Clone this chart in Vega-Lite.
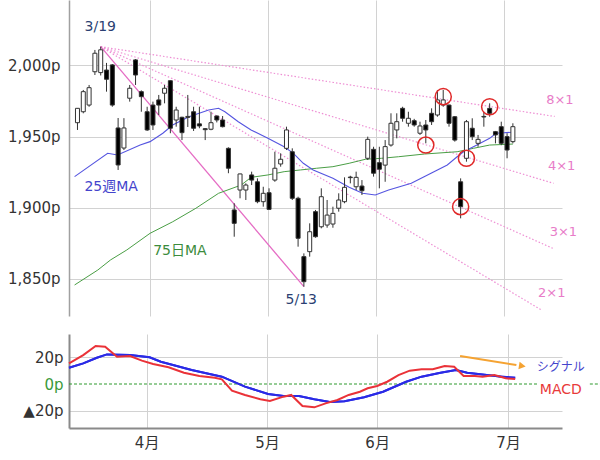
{
  "$schema": "https://vega.github.io/schema/vega-lite/v6.json",
  "autosize": {"type": "pad"},
  "padding": {"left": 0, "top": 0, "right": 0, "bottom": 0},
  "background": "white",
  "spacing": 18,
  "config": {
    "view": {"stroke": null},
    "font": "DejaVu Sans, Noto Sans CJK JP",
    "axis": {"labelFont": "DejaVu Sans, Noto Sans CJK JP", "labelFontSize": 15, "labelColor": "#333333", "gridColor": "#d2d2d2", "gridWidth": 1, "ticks": false}
  },
  "datasets": {
    "candles": [
      {"k":-13,"o":1959.8,"h":1970,"l":1954.7,"c":1969.9},
      {"k":-12,"o":1967.5,"h":1982.8,"l":1966.4,"c":1981.6},
      {"k":-11,"o":1972.2,"h":1986.3,"l":1971,"c":1984.4},
      {"k":-10,"o":1995.6,"h":2010.9,"l":1993.3,"c":2008.6},
      {"k":-9,"o":1995,"h":2013.2,"l":1993,"c":2011},
      {"k":-8,"o":1996.8,"h":2001.8,"l":1981.6,"c":1990.3},
      {"k":-7,"o":2000.4,"h":2001,"l":1971,"c":1972.2},
      {"k":-6,"o":1956.1,"h":1963.1,"l":1926.6,"c":1930.1},
      {"k":-5,"o":1942,"h":1963,"l":1940.6,"c":1956.1},
      {"k":-4,"o":1977,"h":1986.3,"l":1974.6,"c":1984},
      {"k":-3,"o":2003.9,"h":2004.5,"l":1986.3,"c":1993.3},
      {"k":-2,"o":1981.6,"h":1982.5,"l":1967.5,"c":1978.1},
      {"k":-1,"o":1967.5,"h":1971,"l":1954,"c":1954.7},
      {"k":0,"o":1972.2,"h":1974.6,"l":1954.7,"c":1958.2},
      {"k":1,"o":1975.8,"h":1979.3,"l":1965.2,"c":1972.2},
      {"k":2,"o":1980.5,"h":1986.3,"l":1973.4,"c":1984},
      {"k":3,"o":1989.3,"h":1989.5,"l":1952.4,"c":1955.9},
      {"k":4,"o":1961.7,"h":1971,"l":1957,"c":1968.7},
      {"k":5,"o":1963.6,"h":1964,"l":1947.6,"c":1952.8},
      {"k":6,"o":1963.5,"h":1979.3,"l":1956.8,"c":1964.2},
      {"k":7,"o":1967.5,"h":1971,"l":1954,"c":1955.9},
      {"k":8,"o":1959,"h":1971,"l":1955.9,"c":1957.5},
      {"k":9,"o":1955.6,"h":1956,"l":1947.6,"c":1954.9},
      {"k":10,"o":1955.2,"h":1967.5,"l":1954.5,"c":1959.8},
      {"k":11,"o":1964.5,"h":1965,"l":1960,"c":1961.7},
      {"k":12,"o":1961.7,"h":1964.5,"l":1956.5,"c":1957},
      {"k":13,"o":1941.8,"h":1942.5,"l":1924.3,"c":1927.8},
      {"k":14,"o":1898.5,"h":1903.2,"l":1879.7,"c":1889.1},
      {"k":15,"o":1912.5,"h":1924,"l":1906.7,"c":1923.8},
      {"k":16,"o":1912.5,"h":1917.2,"l":1905.5,"c":1916},
      {"k":17,"o":1923.1,"h":1925.4,"l":1916,"c":1919.5},
      {"k":18,"o":1918.3,"h":1920.7,"l":1903.2,"c":1904.3},
      {"k":19,"o":1904.3,"h":1914.8,"l":1900.8,"c":1910.2},
      {"k":20,"o":1910.6,"h":1913.7,"l":1898.5,"c":1898.9},
      {"k":21,"o":1919.5,"h":1939.4,"l":1918.3,"c":1927.8},
      {"k":22,"o":1930.8,"h":1938.3,"l":1928.9,"c":1934.1},
      {"k":23,"o":1941.8,"h":1957,"l":1940.6,"c":1954.7},
      {"k":24,"o":1939.4,"h":1941.8,"l":1905.5,"c":1906.7},
      {"k":25,"o":1906.7,"h":1907.8,"l":1872.7,"c":1878.6},
      {"k":26,"o":1865.7,"h":1868,"l":1844.6,"c":1848.1},
      {"k":27,"o":1869.2,"h":1889.1,"l":1865.7,"c":1883.2},
      {"k":28,"o":1897.3,"h":1898.5,"l":1879,"c":1879.7},
      {"k":29,"o":1886.7,"h":1913.7,"l":1885.6,"c":1907.8},
      {"k":30,"o":1887.9,"h":1905.5,"l":1886,"c":1894.9},
      {"k":31,"o":1888.6,"h":1900.8,"l":1886,"c":1896.1},
      {"k":32,"o":1899.7,"h":1910.2,"l":1897.3,"c":1905.5},
      {"k":33,"o":1904.3,"h":1921.4,"l":1903.2,"c":1914.4},
      {"k":34,"o":1921.6,"h":1922.5,"l":1917.2,"c":1921.2},
      {"k":35,"o":1914.8,"h":1925.4,"l":1912.5,"c":1921.4},
      {"k":36,"o":1915.3,"h":1919.5,"l":1909,"c":1912},
      {"k":37,"o":1934.8,"h":1950,"l":1933.6,"c":1948.1},
      {"k":38,"o":1941.1,"h":1942.9,"l":1921.9,"c":1924.3},
      {"k":39,"o":1931.7,"h":1942.9,"l":1913.7,"c":1927.1},
      {"k":40,"o":1930,"h":1947.6,"l":1918.3,"c":1943},
      {"k":41,"o":1944.1,"h":1966.4,"l":1943,"c":1959.4},
      {"k":42,"o":1954.7,"h":1966.4,"l":1948.8,"c":1960.5},
      {"k":43,"o":1969.9,"h":1971,"l":1960.5,"c":1962.9},
      {"k":44,"o":1959.4,"h":1967.5,"l":1957,"c":1962.9},
      {"k":45,"o":1961.2,"h":1962.5,"l":1957,"c":1958.2},
      {"k":46,"o":1952.4,"h":1960.5,"l":1951.2,"c":1957.5},
      {"k":47,"o":1958.2,"h":1961.7,"l":1945.3,"c":1954.7},
      {"k":48,"o":1966.4,"h":1969.9,"l":1958.2,"c":1960.5},
      {"k":49,"o":1965.2,"h":1982.8,"l":1964,"c":1975.8},
      {"k":50,"o":1972.2,"h":1982.8,"l":1971,"c":1975.8},
      {"k":51,"o":1972.2,"h":1972.5,"l":1957,"c":1959.4},
      {"k":52,"o":1964,"h":1964.5,"l":1946.5,"c":1947.6},
      {"k":53,"o":1918.3,"h":1920.7,"l":1892.6,"c":1900.8},
      {"k":54,"o":1934.8,"h":1961.7,"l":1932.4,"c":1960.5},
      {"k":55,"o":1955.9,"h":1962.9,"l":1947.6,"c":1950},
      {"k":56,"o":1945.3,"h":1951.2,"l":1942.9,"c":1948.1},
      {"k":57,"o":1964.2,"h":1967.5,"l":1957,"c":1963.8},
      {"k":58,"o":1969.9,"h":1973.4,"l":1964,"c":1966.4},
      {"k":59,"o":1953.5,"h":1954,"l":1945.3,"c":1951.2},
      {"k":60,"o":1957,"h":1960.5,"l":1944,"c":1945.3},
      {"k":61,"o":1950,"h":1952.4,"l":1934.8,"c":1940.6},
      {"k":62,"o":1946.5,"h":1959.4,"l":1945.3,"c":1957}
    ],
    "ma25": [
      {"k":-13.5,"p":1921.9},{"k":-7.8,"p":1938.3},{"k":-6.1,"p":1937.1},{"k":-2.2,"p":1944.1},{"k":-0.5,"p":1946.5},{"k":1.7,"p":1952.4},{"k":3.4,"p":1958.2},{"k":6.2,"p":1964},{"k":9.6,"p":1968.7},{"k":11.3,"p":1969.9},{"k":12.4,"p":1967.5},{"k":14.7,"p":1960.5},{"k":16.9,"p":1954.7},{"k":19.8,"p":1948.8},{"k":22.6,"p":1942.9},{"k":24.2,"p":1938.3},{"k":25.9,"p":1931.3},{"k":27.6,"p":1926.6},{"k":31,"p":1920.7},{"k":33.8,"p":1914.4},{"k":36.1,"p":1910.2},{"k":38.3,"p":1909},{"k":40.6,"p":1912.5},{"k":44.5,"p":1917.2},{"k":47.9,"p":1924.3},{"k":50.7,"p":1930.1},{"k":52.4,"p":1935.9},{"k":53.5,"p":1939.4},{"k":55.8,"p":1944.1},{"k":58,"p":1948.8},{"k":59.1,"p":1952.4},{"k":62,"p":1953.1}
    ],
    "ma75": [
      {"k":-13.5,"p":1845.8},{"k":-9.5,"p":1856.3},{"k":-7.3,"p":1863.4},{"k":-4.5,"p":1870.4},{"k":-0.5,"p":1882.1},{"k":3.4,"p":1890.2},{"k":7.4,"p":1899.7},{"k":11.3,"p":1910.2},{"k":15.2,"p":1916},{"k":16.9,"p":1921.4},{"k":19.8,"p":1923.1},{"k":22.6,"p":1925.4},{"k":25.4,"p":1926.6},{"k":28.2,"p":1927.8},{"k":31,"p":1928.9},{"k":33.8,"p":1931.3},{"k":36.6,"p":1934.1},{"k":39.4,"p":1934.8},{"k":42.3,"p":1935.9},{"k":46.8,"p":1937.8},{"k":52.4,"p":1939.4},{"k":55.2,"p":1941.8},{"k":58,"p":1944.1},{"k":62,"p":1944.8}
    ],
    "gann1": [{"k":-9,"p":2013.2},{"k":26,"p":1844.6}],
    "gannN": [
      {"g":"2x1","k":-9,"p":2013.2},{"g":"2x1","k":67,"p":1828},
      {"g":"3x1","k":-9,"p":2013.2},{"g":"3x1","k":68.9,"p":1871.5},
      {"g":"4x1","k":-9,"p":2013.2},{"g":"4x1","k":69,"p":1917.2},
      {"g":"8x1","k":-9,"p":2013.2},{"g":"8x1","k":69.2,"p":1964.2}
    ],
    "circles": [
      {"k":47,"p":1944.1},{"k":50,"p":1978.1},{"k":54,"p":1934.8},{"k":53,"p":1900.8},{"k":58,"p":1971}
    ],
    "macd": [
      {"k":-13.6,"v":15.5},{"k":-11.2,"v":21.7},{"k":-9.1,"v":28.5},{"k":-7.5,"v":27.9},{"k":-5.5,"v":20.4},{"k":-3.3,"v":21.0},{"k":-1.3,"v":17.5},{"k":0.6,"v":15.0},{"k":3.2,"v":12.5},{"k":5.8,"v":8.5},{"k":8.4,"v":6.0},{"k":11,"v":4.7},{"k":12.2,"v":3.5},{"k":13.9,"v":-5.0},{"k":16.1,"v":-8.2},{"k":18.7,"v":-11.5},{"k":20.3,"v":-12.7},{"k":22.6,"v":-9.5},{"k":23.9,"v":-8.2},{"k":25.8,"v":-16.5},{"k":27.8,"v":-17.5},{"k":29.7,"v":-14.5},{"k":31.7,"v":-12.0},{"k":33.6,"v":-8.2},{"k":35.5,"v":-5.8},{"k":36.8,"v":-3.2},{"k":38.4,"v":-1.5},{"k":40.1,"v":1.7},{"k":42,"v":6.7},{"k":43.9,"v":10.0},{"k":45.9,"v":11.0},{"k":47.8,"v":11.0},{"k":49.8,"v":13.5},{"k":51.4,"v":13.0},{"k":53,"v":6.0},{"k":54.9,"v":6.0},{"k":56.2,"v":5.5},{"k":58.2,"v":6.7},{"k":60.1,"v":4.3},{"k":61.7,"v":3.7}
    ],
    "signal": [
      {"k":-13.6,"v":12.2},{"k":-11.2,"v":15.5},{"k":-8.9,"v":19.7},{"k":-7.2,"v":22.2},{"k":-3.3,"v":21.7},{"k":0,"v":20.0},{"k":1.9,"v":16.7},{"k":7.1,"v":10.5},{"k":12.2,"v":5.5},{"k":16.1,"v":-2.0},{"k":20,"v":-7.5},{"k":22.6,"v":-9.0},{"k":25.2,"v":-9.0},{"k":27.8,"v":-11.5},{"k":30.4,"v":-13.5},{"k":32.9,"v":-13.0},{"k":36.2,"v":-10.0},{"k":39.4,"v":-5.8},{"k":43.3,"v":1.7},{"k":45.9,"v":5.5},{"k":49.1,"v":8.5},{"k":51.7,"v":10.5},{"k":53.6,"v":8.5},{"k":56.9,"v":6.7},{"k":59.5,"v":5.5},{"k":61.7,"v":4.7}
    ]
  },
  "vconcat": [
    {
      "width": 493,
      "height": 316,
      "encoding": {
        "x": {"field": "k", "type": "quantitative", "scale": {"domain": [-13.6, 69.6], "nice": false, "zero": false},
              "axis": {"values": [-0.5, 19.8, 38.4, 60.5], "grid": true, "labels": false, "ticks": false, "domain": false, "title": null, "minExtent": 0, "maxExtent": 0}}
      },
      "layer": [
        {
          "data": {"name": "gannN"},
          "mark": {"type": "line", "color": "#ee8fd4", "strokeWidth": 1.2, "strokeDash": [1.5, 2]},
          "encoding": {
            "y": {"field": "p", "type": "quantitative", "scale": {"domain": [1824, 2046], "nice": false, "zero": false},
                  "axis": {"values": [1850, 1900, 1950, 2000], "labelExpr": "format(datum.value, ',') + 'p'", "labelPadding": 9, "grid": true, "domain": true, "domainColor": "#a0a0a0", "domainWidth": 1.5, "title": null, "minExtent": 69, "maxExtent": 69}},
            "detail": {"field": "g"}
          }
        },
        {
          "data": {"name": "gann1"},
          "mark": {"type": "line", "color": "#e56cc4", "strokeWidth": 1.3},
          "encoding": {"y": {"field": "p", "type": "quantitative", "title": null}}
        },
        {
          "data": {"name": "ma75"},
          "mark": {"type": "line", "color": "#4a9e45", "strokeWidth": 1},
          "encoding": {"y": {"field": "p", "type": "quantitative", "title": null}}
        },
        {
          "data": {"name": "ma25"},
          "mark": {"type": "line", "color": "#5555e0", "strokeWidth": 1.1},
          "encoding": {"y": {"field": "p", "type": "quantitative", "title": null}}
        },
        {
          "data": {"name": "candles"},
          "mark": {"type": "rule", "color": "#333333", "strokeWidth": 1},
          "encoding": {"y": {"field": "l", "type": "quantitative", "title": null}, "y2": {"field": "h"}}
        },
        {
          "data": {"name": "candles"},
          "mark": {"type": "bar", "size": 4, "stroke": "#333333", "strokeWidth": 1},
          "encoding": {
            "y": {"field": "o", "type": "quantitative", "title": null},
            "y2": {"field": "c"},
            "fill": {"condition": {"test": "datum.c > datum.o", "value": "white"}, "value": "black"}
          }
        },
        {
          "data": {"name": "circles"},
          "mark": {"type": "point", "shape": "circle", "filled": false, "size": 260, "stroke": "#e02828", "strokeWidth": 1.5, "opacity": 1},
          "encoding": {"y": {"field": "p", "type": "quantitative", "title": null}}
        },
        {
          "data": {"values": [{"k": -9.07, "p": 2027.1, "t": "3/19"}, {"k": 25.55, "p": 1835.2, "t": "5/13"}]},
          "mark": {"type": "text", "fontSize": 14, "color": "#2b3f73"},
          "encoding": {"y": {"field": "p", "type": "quantitative", "title": null}, "text": {"field": "t"}}
        },
        {
          "data": {"values": [{"k": -7.2, "p": 1914.4, "t": "25週MA"}]},
          "mark": {"type": "text", "fontSize": 14, "color": "#4444cc"},
          "encoding": {"y": {"field": "p", "type": "quantitative", "title": null}, "text": {"field": "t"}}
        },
        {
          "data": {"values": [{"k": 4.64, "p": 1869.9, "t": "75日MA"}]},
          "mark": {"type": "text", "fontSize": 14, "color": "#3c8c3c"},
          "encoding": {"y": {"field": "p", "type": "quantitative", "title": null}, "text": {"field": "t"}}
        },
        {
          "data": {"values": [{"k": 70.1, "p": 1975.8, "t": "8×1"}, {"k": 70.4, "p": 1929.4, "t": "4×1"}, {"k": 70.7, "p": 1883.2, "t": "3×1"}, {"k": 68.7, "p": 1839.9, "t": "2×1"}]},
          "mark": {"type": "text", "fontSize": 13, "color": "#e87cc8"},
          "encoding": {"y": {"field": "p", "type": "quantitative", "title": null}, "text": {"field": "t"}}
        }
      ]
    },
    {
      "width": 493,
      "height": 94,
      "encoding": {
        "x": {"field": "k", "type": "quantitative", "scale": {"domain": [-13.6, 69.6], "nice": false, "zero": false},
              "axis": {"values": [-0.5, 19.8, 38.4, 60.5], "labelExpr": "datum.value < 5 ? '4月' : datum.value < 30 ? '5月' : datum.value < 50 ? '6月' : '7月'", "grid": true, "ticks": false, "domain": true, "domainColor": "#8a8a8a", "domainWidth": 2, "labelPadding": 7, "title": null, "minExtent": 32, "maxExtent": 32}}
      },
      "layer": [
        {
          "data": {"name": "signal"},
          "mark": {"type": "line", "color": "#2a2ae6", "strokeWidth": 2},
          "encoding": {"y": {"field": "v", "type": "quantitative", "scale": {"domain": [-33, 37.5], "nice": false, "zero": false},
                  "axis": {"values": [-20, 0, 20], "labelExpr": "datum.value < 0 ? '▲' + (-datum.value) + 'p' : datum.value + 'p'", "labelColor": {"condition": {"test": "datum.value === 0", "value": "#3a9a3a"}, "value": "#333333"}, "gridColor": {"condition": {"test": "datum.value === 0", "value": "transparent"}, "value": "#d2d2d2"}, "grid": true, "domain": true, "domainColor": "#8a8a8a", "domainWidth": 2, "labelPadding": 6, "title": null, "minExtent": 69, "maxExtent": 69}}}
        },
        {
          "data": {"values": [{"a": -13.6, "b": 65.5}, {"a": 74.3, "b": 76}]},
          "mark": {"type": "rule", "color": "#2e9a2e", "strokeWidth": 1.2, "strokeDash": [3, 2]},
          "encoding": {
            "x": {"field": "a", "type": "quantitative", "title": null},
            "x2": {"field": "b"},
            "y": {"datum": 0, "type": "quantitative", "title": null}
          }
        },
        {
          "data": {"name": "signal"},
          "mark": {"type": "line", "color": "#2a2ae6", "strokeWidth": 2},
          "encoding": {"y": {"field": "v", "type": "quantitative", "title": null}}
        },
        {
          "data": {"name": "macd"},
          "mark": {"type": "line", "color": "#ea3238", "strokeWidth": 2},
          "encoding": {"y": {"field": "v", "type": "quantitative", "title": null}}
        },
        {
          "data": {"values": [{"k": 52.4, "v": 21}, {"k": 61.9, "v": 14.2}]},
          "mark": {"type": "line", "color": "#f5a332", "strokeWidth": 2},
          "encoding": {"y": {"field": "v", "type": "quantitative", "title": null}}
        },
        {
          "data": {"values": [{"k": 62.9, "v": 13.5}]},
          "mark": {"type": "point", "shape": "triangle-right", "filled": true, "size": 60, "angle": 9, "color": "#f5a332", "opacity": 1},
          "encoding": {"y": {"field": "v", "type": "quantitative", "title": null}}
        },
        {
          "data": {"values": [{"k": 69.4, "v": 13, "t": "シグナル"}]},
          "mark": {"type": "text", "fontSize": 12, "color": "#4444cc"},
          "encoding": {"y": {"field": "v", "type": "quantitative", "title": null}, "text": {"field": "t"}}
        },
        {
          "data": {"values": [{"k": 69.4, "v": -4.5, "t": "MACD"}]},
          "mark": {"type": "text", "fontSize": 14, "color": "#e83a3a"},
          "encoding": {"y": {"field": "v", "type": "quantitative", "title": null}, "text": {"field": "t"}}
        }
      ]
    }
  ]
}
